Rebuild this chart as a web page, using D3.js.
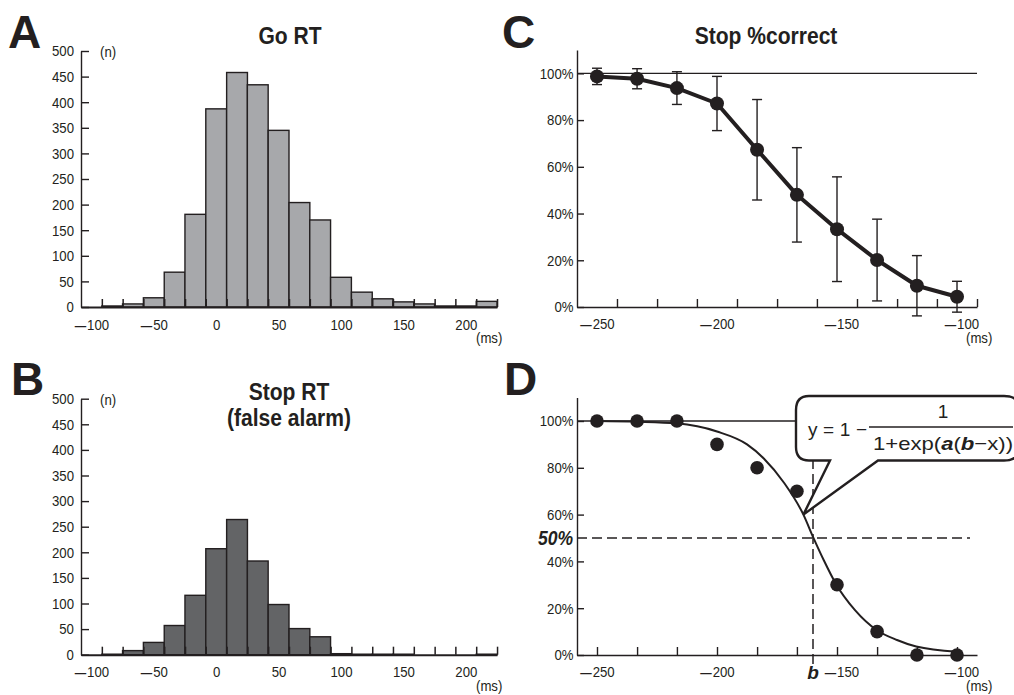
<!DOCTYPE html>
<html>
<head>
<meta charset="utf-8">
<style>
  body { margin: 0; background: #fff; }
  svg { display: block; }
  text { font-family: "Liberation Sans", Arial, Helvetica, sans-serif; fill: #231f20; }
  .panel { font-weight: bold; font-size: 46px; }
  .title { font-weight: bold; font-size: 24.5px; text-anchor: middle; }
  .tick text { font-family: "Liberation Sans", Arial, sans-serif; font-size: 15px; fill: #231f20; }
  .unit { font-size: 15px; }
</style>
</head>
<body>
<svg width="1014" height="695"></svg>
<script src="https://d3js.org/d3.v7.min.js"></script>
<script>
// histogram bins (ms, centre of each 16.7 ms bin)
const binCenters = [-83.3, -66.7, -50, -33.3, -16.7, 0, 16.7, 33.3, 50, 66.7, 83.3, 100, 116.7, 133.3, 150, 166.7, 183.3, 200, 216.7];
const binWidth = 16.67;
const goCounts = [2, 6, 18, 68, 181, 387, 458, 434, 345, 204, 170, 58, 29, 16, 10, 6, 2, 2, 11];
const stopCounts = [1, 8, 24, 57, 116, 207, 264, 183, 98, 51, 35, 2, 1, 1, 1, 0, 0, 0, 1];
const histYTicks = [0, 50, 100, 150, 200, 250, 300, 350, 400, 450, 500];
const histXTicks = [-100, -50, 0, 50, 100, 150, 200];

// stop signal delay (ms)
const soa = [-250, -233.3, -216.7, -200, -183.3, -166.7, -150, -133.3, -116.7, -100];
const stopMean = [98.7, 97.7, 93.7, 87.1, 67.3, 48, 33.3, 20.1, 9.1, 4.4];
const stopSD = [3.5, 4.3, 7, 11.6, 21.5, 20.2, 22.4, 17.5, 12.9, 6.6];
const stopPct = [100, 100, 100, 90, 80, 70, 30, 10, 0, 0];
const pctTicks = [0, 20, 40, 60, 80, 100];
const soaLabels = [-250, -200, -150, -100];

// fitted logistic curve
const fitX = [-250, -233.3, -216.7, -200, -187.5, -180.5, -172, -164, -160, -155.5, -150.5, -142.5, -133.5, -125, -117, -100];
const fitY = [100, 99.7, 99, 95.5, 90, 84, 73.5, 60, 50.5, 40.5, 30.5, 19.2, 10.7, 6.4, 3.6, 1.4];
const fitB = -160;

const ink = "#231f20";
const svg = d3.select("svg");

const negFmt = d => d < 0 ? "\u2212" + (-d) : String(d);

function narrowTicks(sel) {
  sel.selectAll(".tick text").attr("transform", "scale(0.88,1)");
}

function fixMinus(sel) {
  // long bold dash in front of negative numbers, like the original
  sel.selectAll(".tick text").each(function () {
    const t = d3.select(this);
    const s = t.text();
    if (s.startsWith("\u2212")) {
      t.text(null);
      t.append("tspan").attr("font-size", "13px").attr("font-weight", "bold").text("\u2014");
      t.append("tspan").attr("dx", "1").text(s.slice(1));
    }
  });
}

function title(lines, x, y0) {
  lines.forEach((line, i) => {
    svg.append("text")
      .attr("class", "title")
      .attr("transform", `translate(${x},${y0 + i * 26.5}) scale(0.86,1)`)
      .text(line);
  });
}

function histogram(counts, top, fill) {
  const x = d3.scaleLinear().domain([-108.33, 225]).range([81, 497]);
  const y = d3.scaleLinear().domain([0, 500]).range([top + 256, top]);
  const g = svg.append("g");

  g.selectAll("rect")
    .data(counts)
    .join("rect")
    .attr("x", (d, i) => x(binCenters[i] - binWidth / 2))
    .attr("width", (d, i) => x(binCenters[i] + binWidth / 2) - x(binCenters[i] - binWidth / 2))
    .attr("y", d => y(d))
    .attr("height", d => y(0) - y(d))
    .attr("fill", fill)
    .attr("stroke", ink)
    .attr("stroke-width", 1.4);

  // bin edge ticks
  const edges = [binCenters[0] - binWidth / 2].concat(binCenters.map(c => c + binWidth / 2));
  const edgeAxis = g.append("g")
    .attr("transform", `translate(0,${y(0)})`)
    .call(d3.axisBottom(x).tickValues(edges).tickSize(-8).tickSizeOuter(0).tickFormat(""));
  edgeAxis.select(".domain").attr("stroke", ink).attr("stroke-width", 2);
  edgeAxis.selectAll(".tick line").attr("stroke", ink).attr("stroke-width", 1.5);

  const labAxis = g.append("g")
    .attr("transform", `translate(0,${y(0)})`)
    .call(d3.axisBottom(x).tickValues(histXTicks).tickSize(0).tickPadding(12).tickFormat(negFmt));
  labAxis.select(".domain").remove();
  fixMinus(labAxis);
  narrowTicks(labAxis);

  const yAxis = g.append("g")
    .attr("transform", `translate(${x.range()[0]},0)`)
    .call(d3.axisLeft(y).tickValues(histYTicks).tickSize(-8).tickSizeOuter(0).tickPadding(8));
  yAxis.select(".domain").attr("stroke", ink).attr("stroke-width", 1.4);
  yAxis.selectAll(".tick line").attr("stroke", ink).attr("stroke-width", 1.4);
  narrowTicks(yAxis);

  g.append("text").attr("class", "unit").attr("transform", `translate(100,${top + 6}) scale(0.88,1)`).text("(n)");
  g.append("text").attr("class", "unit").attr("transform", `translate(476,${y(0) + 36}) scale(0.88,1)`).text("(ms)");
}

histogram(goCounts, 51, "#a7a8ab");
histogram(stopCounts, 398.7, "#636466");
title(["Go RT"], 290, 44);
title(["Stop RT", "(false alarm)"], 289, 399.5);

// panel C and D share the x scale
const xs = d3.scaleLinear().domain([-258.33, -91.67]).range([577, 977]);

function pctAxes(g, y, tickVals) {
  const yAxis = g.append("g")
    .attr("transform", `translate(${xs.range()[0]},0)`)
    .call(d3.axisLeft(y).tickValues(pctTicks).tickSize(-7).tickSizeOuter(0).tickPadding(4).tickFormat(d => d + "%"));
  yAxis.select(".domain").attr("stroke", ink).attr("stroke-width", 1.4);
  yAxis.selectAll(".tick line").attr("stroke", ink).attr("stroke-width", 1.4);
  narrowTicks(yAxis);

  const xAxis = g.append("g")
    .attr("transform", `translate(0,${y(0)})`)
    .call(d3.axisBottom(xs).tickValues(tickVals).tickSize(-8).tickSizeOuter(0).tickFormat(""));
  xAxis.select(".domain").attr("stroke", ink).attr("stroke-width", 1.6);
  xAxis.selectAll(".tick line").attr("stroke", ink).attr("stroke-width", 1.4);

  const lab = g.append("g")
    .attr("transform", `translate(0,${y(0)})`)
    .call(d3.axisBottom(xs).tickValues(soaLabels).tickSize(0).tickPadding(11).tickFormat(negFmt));
  lab.select(".domain").remove();
  fixMinus(lab);
  narrowTicks(lab);
  lab.selectAll(".tick text").attr("dx", d => d > -175 ? 5 : 0);

  g.append("text").attr("class", "unit").attr("transform", `translate(966,${y(0) + 36}) scale(0.88,1)`).text("(ms)");

  g.append("line")
    .attr("x1", xs.range()[0]).attr("x2", xs.range()[1])
    .attr("y1", y(100)).attr("y2", y(100))
    .attr("stroke", ink).attr("stroke-width", 1.3);
}

// ---- panel C
{
  const y = d3.scaleLinear().domain([0, 110]).range([307, 50]);
  const g = svg.append("g");
  const mids = soa.map(s => s + 8.33);
  pctAxes(g, y, mids);

  const err = g.append("g").attr("stroke", ink).attr("stroke-width", 1.4);
  soa.forEach((s, i) => {
    const lo = y(stopMean[i] - stopSD[i]), hi = y(stopMean[i] + stopSD[i]);
    err.append("line").attr("x1", xs(s)).attr("x2", xs(s)).attr("y1", lo).attr("y2", hi);
    err.append("line").attr("x1", xs(s) - 5).attr("x2", xs(s) + 5).attr("y1", lo).attr("y2", lo);
    err.append("line").attr("x1", xs(s) - 5).attr("x2", xs(s) + 5).attr("y1", hi).attr("y2", hi);
  });

  g.append("path")
    .datum(soa.map((s, i) => [s, stopMean[i]]))
    .attr("fill", "none")
    .attr("stroke", ink)
    .attr("stroke-width", 4)
    .attr("stroke-linejoin", "round")
    .attr("d", d3.line().x(d => xs(d[0])).y(d => y(d[1])));

  g.selectAll("circle")
    .data(soa)
    .join("circle")
    .attr("cx", d => xs(d))
    .attr("cy", (d, i) => y(stopMean[i]))
    .attr("r", 7)
    .attr("fill", ink);

  title(["Stop %correct"], 766, 44);
}

// ---- panel D
{
  const y = d3.scaleLinear().domain([0, 110]).range([655, 397.6]);
  const g = svg.append("g");
  pctAxes(g, y, soa);

  g.append("text")
    .attr("transform", `translate(573,${y(50) + 7}) scale(0.9,1)`)
    .attr("text-anchor", "end")
    .attr("font-size", "19.5px").attr("font-weight", "bold").attr("font-style", "italic")
    .text("50%");

  g.append("line")
    .attr("x1", xs.range()[0]).attr("x2", 970)
    .attr("y1", y(50)).attr("y2", y(50))
    .attr("stroke", ink).attr("stroke-width", 1.5).attr("stroke-dasharray", "10,5");
  g.append("line")
    .attr("x1", xs(fitB)).attr("x2", xs(fitB))
    .attr("y1", y(0) + 9).attr("y2", 455)
    .attr("stroke", ink).attr("stroke-width", 1.5).attr("stroke-dasharray", "10,5");

  g.append("text")
    .attr("x", xs(fitB)).attr("y", y(0) + 24)
    .attr("text-anchor", "middle")
    .attr("font-size", "19px").attr("font-weight", "bold").attr("font-style", "italic")
    .text("b");

  g.append("path")
    .datum(fitX.map((s, i) => [s, fitY[i]]))
    .attr("fill", "none")
    .attr("stroke", ink)
    .attr("stroke-width", 2)
    .attr("d", d3.line().curve(d3.curveMonotoneX).x(d => xs(d[0])).y(d => y(d[1])));

  g.selectAll("circle")
    .data(soa)
    .join("circle")
    .attr("cx", d => xs(d))
    .attr("cy", (d, i) => y(stopPct[i]))
    .attr("r", 6.8)
    .attr("fill", ink);

  // speech bubble with the fitted function
  const tip = [xs(-164), y(60)];
  g.append("path")
    .attr("d", `M830,460.5 L${tip[0]},${tip[1]} L878,460.5 L1004,460.5 Q1019,460.5 1019,448 L1019,408 Q1019,396 1004,396 L809,396 Q796,396 796,410 L796,447 Q796,460.5 809,460.5 Z`)
    .attr("fill", "#fff")
    .attr("stroke", ink)
    .attr("stroke-width", 2.4)
    .attr("stroke-linejoin", "miter");

  const fs = "19px";
  g.append("text").attr("x", 808).attr("y", 436).attr("font-size", fs)
    .attr("textLength", 59).attr("lengthAdjust", "spacing")
    .text("y=1\u2212");
  g.append("text").attr("x", 943).attr("y", 418).attr("font-size", fs).attr("text-anchor", "middle").text("1");
  g.append("line").attr("x1", 869).attr("x2", 1013).attr("y1", 427).attr("y2", 427)
    .attr("stroke", ink).attr("stroke-width", 1.4);
  const den = g.append("text").attr("x", 873).attr("y", 450).attr("font-size", fs)
    .attr("textLength", 140).attr("lengthAdjust", "spacingAndGlyphs");
  den.append("tspan").text("1+exp(");
  den.append("tspan").attr("font-weight", "bold").attr("font-style", "italic").text("a");
  den.append("tspan").text("(");
  den.append("tspan").attr("font-weight", "bold").attr("font-style", "italic").text("b");
  den.append("tspan").text("\u2212x))");
}

// panel letters
[["A", 8, 48], ["B", 11, 395], ["C", 502, 48], ["D", 504, 395]].forEach(([l, x, yy]) => {
  svg.append("text").attr("class", "panel").attr("x", x).attr("y", yy).text(l);
});
</script>
</body>
</html>
